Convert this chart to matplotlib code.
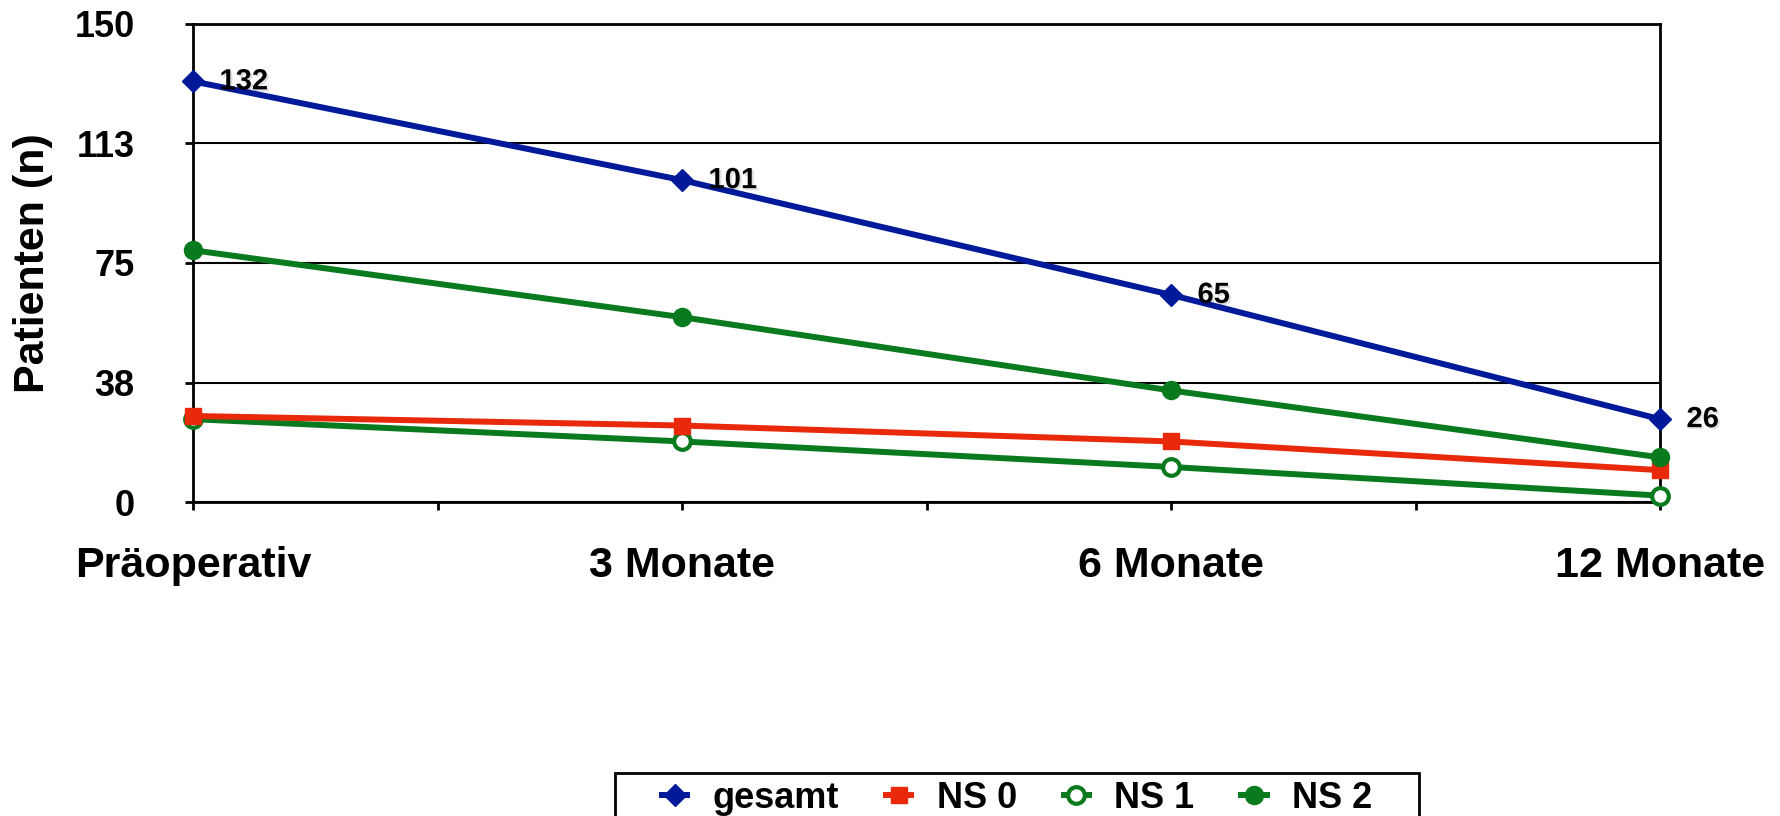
import matplotlib.pyplot as plt
import matplotlib.patheffects as pe
from matplotlib.patches import Rectangle

plt.rcParams['font.family'] = ['Liberation Sans', 'DejaVu Sans']
plt.rcParams['font.weight'] = 'bold'

# data
zeitpunkte = ["Präoperativ", "3 Monate", "6 Monate", "12 Monate"]
gesamt = [132, 101, 65, 26]
ns0 = [27, 24, 19, 10]
ns1 = [26, 19, 11, 2]
ns2 = [79, 58, 35, 14]
y_ticks = [0, 37.5, 75, 112.5, 150]
y_tick_labels = ["0", "38", "75", "113", "150"]

blue = "#001A99"
red = "#E8290B"
green = "#0A7A1E"

fig = plt.figure(figsize=(17.81, 8.16), dpi=100)
ax = fig.add_axes([0.1084, 0.3848, 0.8237, 0.5858])

x = list(range(len(zeitpunkte)))
lw = 4.3
ax.plot(x, ns1, color=green, lw=lw, marker="o", ms=12, mfc="white", mec=green, mew=3,
        label="NS 1", zorder=3, clip_on=False)
ax.plot(x, ns0, color=red, lw=lw, marker="s", ms=12, mfc=red, mec=red,
        label="NS 0", zorder=3, clip_on=False)
ax.plot(x, ns2, color=green, lw=lw, marker="o", ms=13, mfc=green, mec=green,
        label="NS 2", zorder=3, clip_on=False)
ax.plot(x, gesamt, color=blue, lw=lw, marker="D", ms=11, mfc=blue, mec=blue,
        label="gesamt", zorder=4, clip_on=False)

shadow = [pe.withSimplePatchShadow(offset=(1.5, -1.5), shadow_rgbFace="black", alpha=0.12)]
for xi, v in zip(x, gesamt):
    ax.annotate(str(v), (xi, v), xytext=(19, 0), textcoords="offset points",
                ha="left", va="center", fontsize=21, fontweight="bold",
                path_effects=shadow, zorder=5)

ax.set_xlim(0, 3)
ax.set_ylim(0, 150)
ax.set_yticks(y_ticks)
ax.set_yticklabels(y_tick_labels)
ax.set_xticks(x)
ax.set_xticklabels(zeitpunkte)
ax.set_xticks([0.5, 1.5, 2.5], minor=True)
ax.tick_params(axis="y", labelsize=26, width=2, length=6, pad=36)
ax.tick_params(axis="x", which="major", labelsize=31, width=2, length=6, pad=26)
ax.tick_params(axis="x", which="minor", width=2, length=6)
ax.yaxis.grid(True, color="black", lw=1.5)
ax.set_axisbelow(True)
for s in ax.spines.values():
    s.set_linewidth(2)

ax.set_ylabel("Patienten (n)", fontsize=31, fontweight="bold")
ax.yaxis.set_label_coords(-0.0954, 0.5)

handles, labels = ax.get_legend_handles_labels()
order = [3, 1, 0, 2]
leg = fig.legend([handles[i] for i in order], [labels[i] for i in order],
                 loc="center left", bbox_to_anchor=(662 / 1781, 0.022), ncol=4,
                 fontsize=26, frameon=False,
                 handlelength=0.7, handletextpad=0.7, columnspacing=1.3,
                 borderaxespad=0, borderpad=0)

# legend box runs off the bottom edge of the figure
box = Rectangle((615 / 1781, -0.05), (1419 - 615) / 1781, 0.05 + (816 - 773) / 816,
                transform=fig.transFigure, fill=False, edgecolor="black", lw=2)
fig.patches.append(box)

fig.savefig("out.png", dpi=100)
